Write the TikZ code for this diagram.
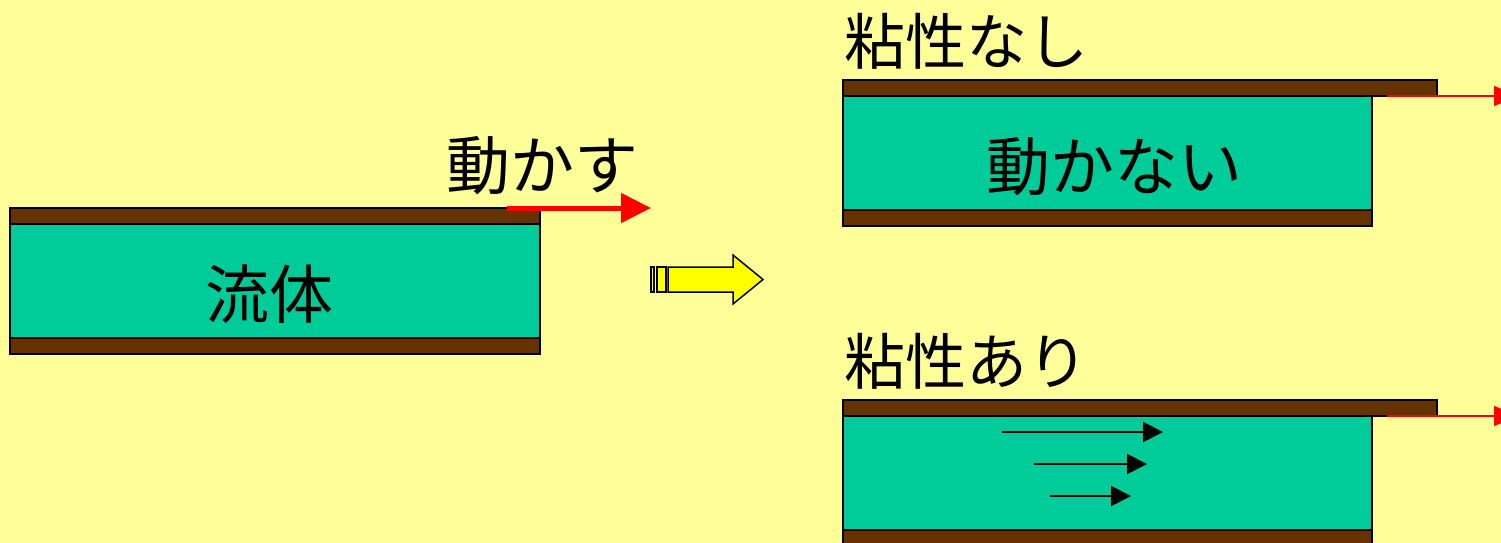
\documentclass[tikz,border=0pt]{standalone}
\usepackage{fontspec}
\newfontfamily\jp{Noto Sans CJK JP}
\usetikzlibrary{arrows.meta}
\definecolor{bg}{HTML}{FFFF99}
\definecolor{plate}{HTML}{663300}
\definecolor{fluid}{HTML}{00CC99}
\definecolor{yel}{HTML}{FFFF00}
\tikzset{
  platebox/.style={draw=black, line width=2pt, fill=plate, inner sep=0pt, outer sep=0pt, anchor=north west, minimum height=16pt},
  fluidbox/.style={draw=black, line width=2pt, fill=fluid, inner sep=0pt, outer sep=0pt, anchor=north west, minimum height=114pt},
  label/.style={font=\jp\fontsize{61}{72}\selectfont, inner sep=0pt},
  biglabel/.style={font=\jp\fontsize{64}{76}\selectfont, inner sep=0pt},
  bigred/.style={draw=red, line width=5pt, -{Triangle[length=30pt 0 0,width=29pt 0 0]}},
  thinred/.style={draw=red, line width=1.6pt, -{Triangle[length=24pt 0 0,width=20pt 0 0]}},
  flow/.style={draw=black, line width=2pt, -{Triangle[length=20pt 0 0,width=20pt 0 0]}},
  yarrow/.style={draw=black, line width=1.5pt, fill=yel, line join=miter}
}
\begin{document}
\begin{tikzpicture}[x=1pt,y=-1pt]
\clip (0,0) rectangle (1501,543);
\fill[bg] (0,0) rectangle (1501,543);

% left panel
\node[fluidbox, minimum width=530pt] (lf) at (10,224) {};
\node[platebox, minimum width=530pt] (lt) at (10,208) {};
\node[platebox, minimum width=530pt] (lb) at (10,338) {};
\node[biglabel] (lflu) at (269,294) {流体};
\node[biglabel] (lmove) at (542,166) {動かす};
\coordinate (lrs) at (507,208);
\coordinate (lre) at (651,208);
\draw[bigred] (lrs) -- (lre);

% yellow arrow
\draw[yarrow] (651,267) rectangle (654,292);
\draw[yarrow] (657,267) rectangle (666,292);
\draw[yarrow] (668,267) -- (733,267) -- (733,255) -- (763,279.5) -- (733,304) -- (733,292) -- (668,292) -- cycle;

% upper right panel
\node[fluidbox, minimum width=529pt] (uf) at (843,96) {};
\node[platebox, minimum width=594pt] (ut) at (843,80) {};
\node[platebox, minimum width=529pt] (ub) at (843,210) {};
\node[label] (ut1) at (966,41) {粘性なし};
\node[biglabel] (ut2) at (1114,167) {動かない};
\coordinate (urs) at (1387,96);
\coordinate (ure) at (1518,96);
\draw[thinred] (urs) -- (ure);

% lower right panel
\node[fluidbox, minimum width=529pt] (df) at (843,416) {};
\node[platebox, minimum width=594pt] (dt) at (843,400) {};
\node[platebox, minimum width=529pt] (db) at (843,530) {};
\node[label] (dt1) at (966,361) {粘性あり};
\coordinate (drs) at (1387,416);
\coordinate (dre) at (1518,416);
\draw[thinred] (drs) -- (dre);

\coordinate (a1s) at (1002,432); \coordinate (a1e) at (1163,432);
\coordinate (a2s) at (1034,464); \coordinate (a2e) at (1147,464);
\coordinate (a3s) at (1050,496); \coordinate (a3e) at (1131,496);
\draw[flow] (a1s) -- (a1e);
\draw[flow] (a2s) -- (a2e);
\draw[flow] (a3s) -- (a3e);
\end{tikzpicture}
\end{document}
